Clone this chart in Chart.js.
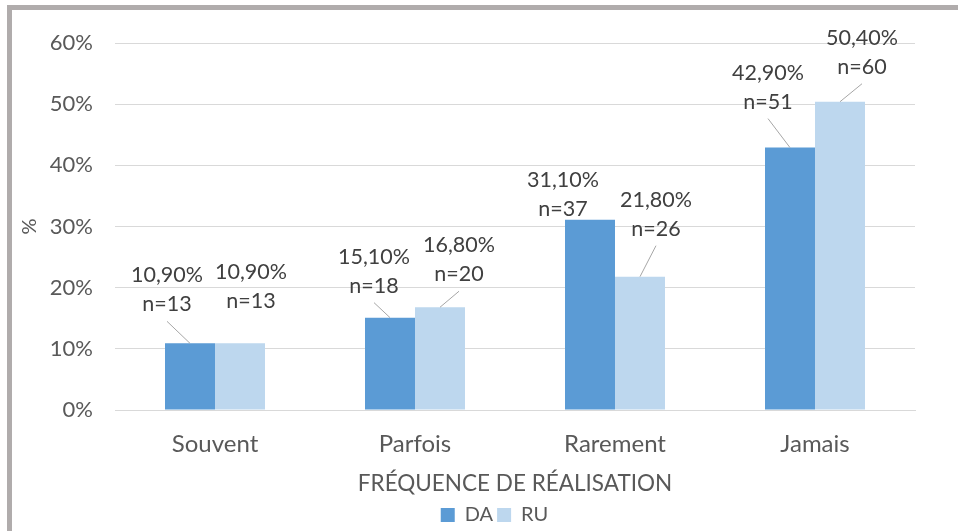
<!DOCTYPE html>
<html>
<head>
<meta charset="utf-8">
<script src="https://cdn.jsdelivr.net/npm/chart.js@4.4.1/dist/chart.umd.min.js"></script>
<style>
  body { margin: 0; background: #fff; }
  #wrap { position: relative; width: 958px; height: 531px; }
  #cadre { position: absolute; left: 7px; top: 5px; width: 980px; height: 560px;
           border-left: 5px solid #b0acac; border-top: 5px solid #b0acac; pointer-events: none; }
</style>
</head>
<body>
<div id="wrap">
  <canvas id="graphique" width="958" height="531"></canvas>
  <div id="cadre"></div>
</div>
<script>
// Données du graphique
const categories = ['Souvent', 'Parfois', 'Rarement', 'Jamais'];
const valeursDA = [10.9, 15.1, 31.1, 42.9];
const valeursRU = [10.9, 16.8, 21.8, 50.4];
const effectifsDA = [13, 18, 37, 51];
const effectifsRU = [13, 20, 26, 60];
const ticksY = [0, 10, 20, 30, 40, 50, 60];

const police = 'Lato, "Open Sans", sans-serif';

// position des étiquettes par rapport au haut de la barre (dx, dy, trait de rappel)
const placementEtiquettes = [
    [[-23, -68, true], [-16, -61, true], [-27, -40, false], [-22, -75, true]],
    [[11, -71, false], [19, -62, true], [16, -77, true], [22, -64, true]]
];

const etiquettes = {
    id: 'etiquettes',
    afterLayout(chart) {
        // la légende est décalée comme dans Excel
        const lg = chart.legend;
        lg.left += 37;
        lg.right += 37;
        lg.top += 4;
        lg.bottom += 4;
    },
    afterDatasetsDraw(chart) {
        const ctx = chart.ctx;
        const comptes = [effectifsDA, effectifsRU];
        ctx.save();
        ctx.font = '21.5px ' + police;
        ctx.fillStyle = '#404040';
        ctx.textAlign = 'center';
        ctx.textBaseline = 'middle';
        chart.data.datasets.forEach((ds, d) => {
            const meta = chart.getDatasetMeta(d);
            meta.data.forEach((barre, i) => {
                const [dx, dy, trait] = placementEtiquettes[d][i];
                const x = barre.x + dx;
                const y = barre.y + dy;
                const texte = ds.data[i].toFixed(2).replace('.', ',') + '%';
                ctx.fillText(texte, x, y);
                ctx.fillText('n=' + comptes[d][i], x, y + 29);
                if (trait) {
                    ctx.beginPath();
                    ctx.strokeStyle = '#a6a6a6';
                    ctx.lineWidth = 1;
                    ctx.moveTo(x, y + 46);
                    ctx.lineTo(barre.x, barre.y);
                    ctx.stroke();
                }
            });
        });
        ctx.restore();
    }
};

new Chart(document.getElementById('graphique'), {
    type: 'bar',
    data: {
        labels: categories,
        datasets: [
            { label: 'DA', data: valeursDA, backgroundColor: '#5b9bd5' },
            { label: 'RU', data: valeursRU, backgroundColor: '#bdd7ee' }
        ]
    },
    options: {
        responsive: false,
        animation: false,
        events: [],
        categoryPercentage: 0.5,
        barPercentage: 1,
        layout: { padding: { top: 43, right: 43, left: 0, bottom: 0 } },
        scales: {
            x: {
                grid: { display: false },
                border: { display: true, color: '#d9d9d9', width: 1 },
                ticks: { color: '#595959', font: { family: police, size: 24 }, padding: 12 },
                title: { display: true, text: 'FRÉQUENCE DE RÉALISATION', color: '#595959',
                         font: { family: police, size: 22.5 }, padding: { top: 6, bottom: 0 } },
                afterFit(s) { s.height = 87; }
            },
            y: {
                min: 0,
                max: 60,
                afterBuildTicks(s) { s.ticks = ticksY.map(v => ({ value: v })); },
                grid: { color: '#d9d9d9', lineWidth: 1, drawTicks: false },
                border: { display: false },
                ticks: { color: '#595959', font: { family: police, size: 22 }, padding: 22,
                         callback: v => v + '%' },
                title: { display: true, text: '%', color: '#595959',
                         font: { family: police, size: 20 }, padding: { top: 18, bottom: 0 } },
                afterFit(s) { s.width = 115; }
            }
        },
        plugins: {
            legend: {
                position: 'bottom',
                labels: { color: '#595959', font: { family: police, size: 20 },
                          boxWidth: 14, boxHeight: 14, padding: 4 }
            },
            tooltip: { enabled: false }
        }
    },
    plugins: [etiquettes]
});
</script>
</body>
</html>
